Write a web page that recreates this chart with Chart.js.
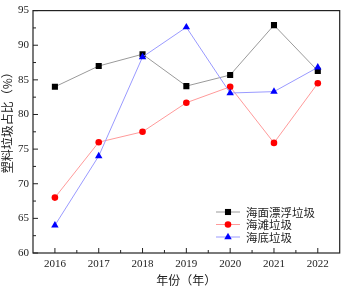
<!DOCTYPE html>
<html>
<head>
<meta charset="utf-8">
<script src="https://cdn.jsdelivr.net/npm/chart.js@4/dist/chart.umd.min.js"></script>
<style>
  html, body { margin: 0; padding: 0; background: #fff; }
  canvas { display: block; }
</style>
</head>
<body>
<canvas id="plasticChart" width="344" height="288"></canvas>
<script>
const years = ["2016", "2017", "2018", "2019", "2020", "2021", "2022"];
const surfaceLitter = [84.0, 87.0, 88.7, 84.1, 85.7, 92.9, 86.3];
const beachLitter = [68.0, 76.0, 77.5, 81.7, 84.0, 75.9, 84.5];
const seabedLitter = [64.0, 74.0, 88.3, 92.6, 83.1, 83.3, 86.8];
const seriesNames = ["海面漂浮垃圾", "海滩垃圾", "海底垃圾"];

const cjkFont = "'Noto Sans CJK SC', 'Noto Sans', sans-serif";
const numFont = "'Liberation Serif', 'DejaVu Serif', serif";

// draws a marker the same way for plot and legend
function marker(ctx, style, x, y, r, color) {
  ctx.save();
  ctx.fillStyle = color;
  ctx.beginPath();
  if (style === "rect") {
    const s = r * Math.SQRT1_2;
    ctx.rect(x - s, y - s, 2 * s, 2 * s);
  } else if (style === "triangle") {
    ctx.moveTo(x, y - r);
    ctx.lineTo(x + r * Math.sin(Math.PI / 3), y + r * 0.5);
    ctx.lineTo(x - r * Math.sin(Math.PI / 3), y + r * 0.5);
    ctx.closePath();
  } else {
    ctx.arc(x, y, r, 0, Math.PI * 2);
  }
  ctx.fill();
  ctx.restore();
}

// frame, inward ticks and the legend inside the plot
const frameTicks = {
  id: "frameTicks",
  afterDraw(chart) {
    const { ctx, chartArea: a, scales } = chart;
    const xs = scales.x, ys = scales.y;
    ctx.save();
    ctx.strokeStyle = "#222";
    ctx.lineWidth = 1.2;
    ctx.strokeRect(a.left, a.top, a.right - a.left, a.bottom - a.top);

    ctx.lineWidth = 1;
    ctx.beginPath();
    for (let i = 0; i < years.length; i++) {
      const px = xs.getPixelForValue(i);
      ctx.moveTo(px, a.bottom);
      ctx.lineTo(px, a.bottom - 5);
      if (i < years.length - 1) {
        const mx = (px + xs.getPixelForValue(i + 1)) / 2;
        ctx.moveTo(mx, a.bottom);
        ctx.lineTo(mx, a.bottom - 3);
      }
    }
    for (let v = ys.min; v <= ys.max; v += 2.5) {
      const py = ys.getPixelForValue(v);
      const len = v % 5 === 0 ? 5 : 3;
      ctx.moveTo(a.left, py);
      ctx.lineTo(a.left + len, py);
    }
    ctx.stroke();

    // legend
    const rows = [212, 224.5, 237];
    ctx.font = "11.5px " + cjkFont;
    ctx.textBaseline = "middle";
    chart.data.datasets.forEach((ds, i) => {
      const y = rows[i];
      ctx.strokeStyle = ds.borderColor;
      ctx.lineWidth = 1;
      ctx.beginPath();
      ctx.moveTo(216, y);
      ctx.lineTo(240, y);
      ctx.stroke();
      marker(ctx, ds.pointStyle, 228, y, ds.pointRadius, ds.pointBackgroundColor);
      ctx.fillStyle = "#222";
      ctx.fillText(ds.label, 246, y + 0.5);
    });
    ctx.restore();
  }
};

new Chart(document.getElementById("plasticChart").getContext("2d"), {
  type: "line",
  data: {
    labels: years,
    datasets: [
      {
        label: seriesNames[0],
        data: surfaceLitter,
        borderColor: "#9a9a9a",
        pointBackgroundColor: "#000000",
        pointStyle: "rect",
        pointRadius: 4.3,
        order: 3
      },
      {
        label: seriesNames[1],
        data: beachLitter,
        borderColor: "#ff9a9a",
        pointBackgroundColor: "#ff0000",
        pointStyle: "circle",
        pointRadius: 3.3,
        order: 2
      },
      {
        label: seriesNames[2],
        data: seabedLitter,
        borderColor: "#9a9aff",
        pointBackgroundColor: "#0000ff",
        pointStyle: "triangle",
        pointRadius: 4.3,
        order: 1
      }
    ].map(d => Object.assign({
      borderWidth: 1,
      tension: 0,
      pointBorderWidth: 0,
      pointBorderColor: d.pointBackgroundColor,
      pointHoverRadius: d.pointRadius
    }, d))
  },
  options: {
    responsive: false,
    animation: false,
    devicePixelRatio: 1,
    layout: { padding: { top: 5, right: 4, left: 0, bottom: 0 } },
    plugins: {
      legend: { display: false },
      tooltip: { enabled: false }
    },
    scales: {
      x: {
        type: "category",
        offset: true,
        grid: { display: false, drawTicks: false },
        border: { display: false },
        ticks: {
          padding: 5,
          color: "#222",
          maxRotation: 0,
          font: { family: numFont, size: 11 }
        },
        title: {
          display: true,
          text: "年份（年）",
          color: "#222",
          padding: 0,
          font: { family: cjkFont, size: 12 }
        },
        afterFit(scale) { scale.height = 35; }
      },
      y: {
        min: 60,
        max: 95,
        grid: { display: false, drawTicks: false },
        border: { display: false },
        ticks: {
          stepSize: 5,
          padding: 4,
          color: "#222",
          font: { family: numFont, size: 11 }
        },
        title: {
          display: true,
          // leading ideographic spaces lift the title a little, as in the reference
          text: "\u3000\u3000塑料垃圾占比（%）",
          color: "#222",
          padding: 0,
          font: { family: cjkFont, size: 12 }
        },
        afterFit(scale) { scale.width = 33; }
      }
    }
  },
  plugins: [frameTicks]
});
</script>
</body>
</html>
